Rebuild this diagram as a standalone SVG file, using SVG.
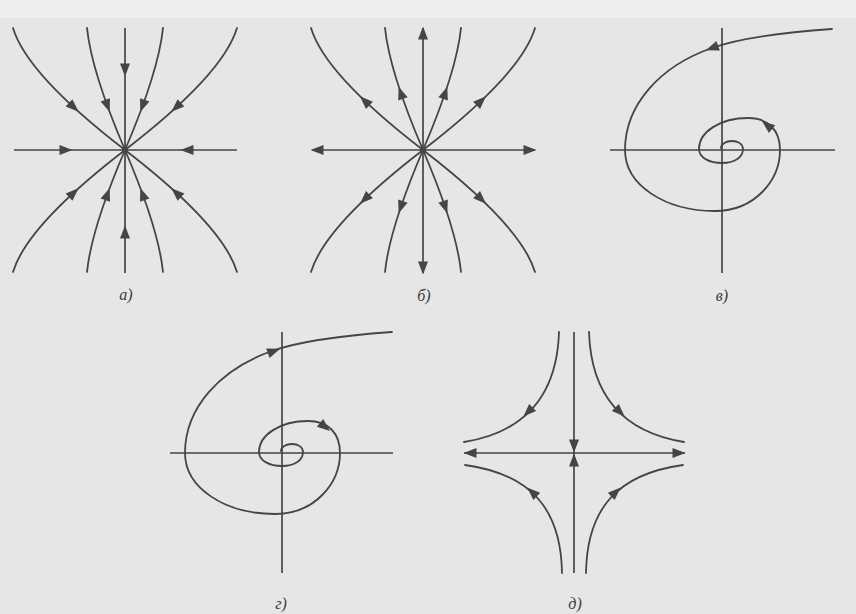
<svg xmlns="http://www.w3.org/2000/svg" xmlns:xlink="http://www.w3.org/1999/xlink" width="856" height="614" viewBox="0 0 856 614">
<style>
.ln{fill:none;stroke:#454545;stroke-width:1.8;stroke-linecap:round}
.ax{fill:none;stroke:#454545;stroke-width:1.7}
.ah{fill:#454545}
.lbl{font-family:"Liberation Serif",serif;font-style:italic;font-size:16px;fill:#3a3a3a;text-anchor:middle}
</style>
<defs>
<polygon id="ah" points="6.5,0 -6.5,-5 -6.5,5"/>
<g id="star">
<line class="ax" x1="-111" y1="0" x2="112" y2="0"/>
<line class="ax" x1="0" y1="-122" x2="0" y2="123"/>
<path class="ln" d="M-112,-122 Q-98,-75.4 0,0 M112,-122 Q98,-75.4 0,0 M-112,122 Q-98,75.4 0,0 M112,122 Q98,75.4 0,0"/>
<path class="ln" d="M-38,-122 Q-33.6,-78.5 0,0 M38,-122 Q33.6,-78.5 0,0 M-38,122 Q-33.6,78.5 0,0 M38,122 Q33.6,78.5 0,0"/>
<circle cx="0" cy="0" r="3" class="ah"/>
</g>
<path id="spiral" class="ln" d="M110,-121 C68,-118 18,-112 -10,-102 C-62,-84 -97,-45 -97,0 C-97,35 -57,61 -7,61 C33,61 58,30 58,0 C58,-20 46,-32 26,-32 C-2,-32 -23,-18 -23,-1 C-23,8 -12,13 0,13 C13,13 21,7 21,-1 C21,-6 16,-9 10,-9 C4,-9 -1,-6 -1,-2"/>
</defs>
<rect x="0" y="0" width="856" height="614" fill="#e6e6e6"/>
<rect x="0" y="0" width="856" height="18" fill="#eeeeee"/>

<g id="node-a" transform="translate(125,150)">
<use xlink:href="#star"/>
<g class="ah">
<use xlink:href="#ah" transform="translate(-59,0)"/>
<use xlink:href="#ah" transform="translate(62,0) rotate(180)"/>
<use xlink:href="#ah" transform="translate(0,-80) rotate(90)"/>
<use xlink:href="#ah" transform="translate(0,82) rotate(-90)"/>
<use xlink:href="#ah" transform="translate(-51.2,-42.7) rotate(42.5)"/>
<use xlink:href="#ah" transform="translate(51.2,-42.7) rotate(137.5)"/>
<use xlink:href="#ah" transform="translate(-51.2,42.7) rotate(-42.5)"/>
<use xlink:href="#ah" transform="translate(51.2,42.7) rotate(-137.5)"/>
<use xlink:href="#ah" transform="translate(-17.5,-44) rotate(70)"/>
<use xlink:href="#ah" transform="translate(17.5,-44) rotate(110)"/>
<use xlink:href="#ah" transform="translate(-17.5,44) rotate(-70)"/>
<use xlink:href="#ah" transform="translate(17.5,44) rotate(-110)"/>
</g>
</g>
<text class="lbl" x="126" y="300">а)</text>

<g id="node-b" transform="translate(423,150)">
<use xlink:href="#star"/>
<g class="ah">
<use xlink:href="#ah" transform="translate(-106,0) rotate(180)"/>
<use xlink:href="#ah" transform="translate(107,0)"/>
<use xlink:href="#ah" transform="translate(0,-117) rotate(-90)"/>
<use xlink:href="#ah" transform="translate(0,118) rotate(90)"/>
<use xlink:href="#ah" transform="translate(-58.3,-49.2) rotate(223.6)"/>
<use xlink:href="#ah" transform="translate(58.3,-49.2) rotate(-43.6)"/>
<use xlink:href="#ah" transform="translate(-58.3,49.2) rotate(136.4)"/>
<use xlink:href="#ah" transform="translate(58.3,49.2) rotate(43.6)"/>
<use xlink:href="#ah" transform="translate(-22.2,-57.2) rotate(251.2)"/>
<use xlink:href="#ah" transform="translate(22.2,-57.2) rotate(288.8)"/>
<use xlink:href="#ah" transform="translate(-22.2,57.2) rotate(108.8)"/>
<use xlink:href="#ah" transform="translate(22.2,57.2) rotate(71.2)"/>
</g>
</g>
<text class="lbl" x="424" y="301">б)</text>

<g id="node-v" transform="translate(722,150)">
<line class="ax" x1="-112" y1="0" x2="113" y2="0"/>
<line class="ax" x1="0" y1="-122" x2="0" y2="123"/>
<use xlink:href="#spiral"/>
<g class="ah">
<use xlink:href="#ah" transform="translate(-10,-102) rotate(160)"/>
<use xlink:href="#ah" transform="translate(45,-25) rotate(219)"/>
</g>
</g>
<text class="lbl" x="722" y="301">в)</text>

<g id="node-g" transform="translate(282,453)">
<line class="ax" x1="-112" y1="0" x2="111" y2="0"/>
<line class="ax" x1="0" y1="-121" x2="0" y2="120"/>
<use xlink:href="#spiral"/>
<g class="ah">
<use xlink:href="#ah" transform="translate(-8,-102) rotate(-20)"/>
<use xlink:href="#ah" transform="translate(43,-26) rotate(39)"/>
</g>
</g>
<text class="lbl" x="281" y="609">г)</text>

<g id="node-d">
<line class="ax" x1="464" y1="453" x2="685" y2="453"/>
<line class="ax" x1="574" y1="332" x2="574" y2="573"/>
<path class="ln" d="M559,332 C557,395 525,432 464,442 M589,332 C591,395 623,432 684,442 M562,573 C561,508 530,474 465,465 M586,573 C587,508 618,474 683,465"/>
<g class="ah">
<use xlink:href="#ah" transform="translate(470,453) rotate(180)"/>
<use xlink:href="#ah" transform="translate(679,453)"/>
<use xlink:href="#ah" transform="translate(574,446) rotate(90)"/>
<use xlink:href="#ah" transform="translate(574,460) rotate(-90)"/>
<use xlink:href="#ah" transform="translate(528,412) rotate(135.5)"/>
<use xlink:href="#ah" transform="translate(620,412) rotate(44.5)"/>
<use xlink:href="#ah" transform="translate(532,492) rotate(-137.1)"/>
<use xlink:href="#ah" transform="translate(616,492) rotate(-42.9)"/>
</g>
</g>
<text class="lbl" x="575" y="609">д)</text>
</svg>
